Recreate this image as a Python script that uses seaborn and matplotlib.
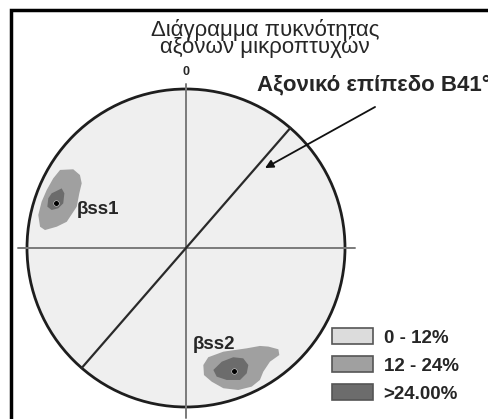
import numpy as np
import pandas as pd
import matplotlib.pyplot as plt
import seaborn as sns
from matplotlib.patches import Circle, Patch, Rectangle, Polygon

# Stereonet data (unit circle coordinates)
bss1_outer = [(-0.792, 0.491), (-0.709, 0.495), (-0.667, 0.459), (-0.656, 0.407),
              (-0.671, 0.344), (-0.687, 0.260), (-0.750, 0.165), (-0.813, 0.134),
              (-0.887, 0.113), (-0.918, 0.134), (-0.929, 0.208), (-0.908, 0.291),
              (-0.876, 0.365), (-0.835, 0.438)]
bss1_inner = [(-0.824, 0.354), (-0.782, 0.375), (-0.765, 0.344), (-0.772, 0.281),
              (-0.803, 0.250), (-0.845, 0.239), (-0.872, 0.260), (-0.866, 0.313),
              (-0.845, 0.344)]
bss2_outer = [(0.109, -0.736), (0.140, -0.687), (0.235, -0.652), (0.382, -0.631),
              (0.465, -0.616), (0.518, -0.620), (0.581, -0.637), (0.587, -0.673),
              (0.528, -0.715), (0.486, -0.778), (0.465, -0.830), (0.413, -0.872),
              (0.329, -0.893), (0.235, -0.882), (0.162, -0.841), (0.113, -0.799)]
bss2_inner = [(0.172, -0.767), (0.225, -0.715), (0.297, -0.687), (0.360, -0.694),
              (0.392, -0.736), (0.382, -0.788), (0.340, -0.830), (0.256, -0.830),
              (0.193, -0.809)]
maxima_x = [-0.819, 0.302]
maxima_y = [0.285, -0.772]
maxima_names = ['βss1', 'βss2']
axial_plane_azimuth = 41

legend_labels = ['0 - 12%', '12 - 24%', '>24.00%']
level_colors = ['#dcdcdc', '#a0a0a0', '#6c6c6c']

sns.set_theme(style='white')
plt.rcParams['font.family'] = ['Liberation Sans', 'DejaVu Sans']

fig = plt.figure(figsize=(4.88, 4.19), dpi=100)
ax = fig.add_axes([0, 0, 1, 1])
ax.set_xlim(-186 / 159, (488 - 186) / 159)
ax.set_ylim(-(419 - 248) / 159, 248 / 159)
ax.set_aspect('equal')
ax.axis('off')

# frame round the figure (cut off at right and bottom)
fig.patches.append(Rectangle((11 / 488, -0.05), 1.1, 1 - 10 / 419 + 0.05,
                             transform=fig.transFigure, fill=False,
                             edgecolor='black', linewidth=2.5))

# net
ax.add_patch(Circle((0, 0), 1, facecolor='#efefef', edgecolor='#1e1e1e',
                    linewidth=2.0, zorder=1))
cross_h = pd.DataFrame({'x': [-1.057, 1.063], 'y': [0, 0]})
sns.lineplot(data=cross_h, x='x', y='y', color='#7a7a7a', linewidth=1.4, ax=ax,
             zorder=2, estimator=None, sort=False)
cross_v = pd.DataFrame({'x': [0, 0], 'y': [1.03, -1.07]})
sns.lineplot(data=cross_v, x='x', y='y', color='#7a7a7a', linewidth=1.4, ax=ax,
             zorder=2, estimator=None, sort=False)

# density contours
for poly, col in [(bss1_outer, level_colors[1]), (bss2_outer, level_colors[1]),
                  (bss1_inner, level_colors[2]), (bss2_inner, level_colors[2])]:
    ax.add_patch(Polygon(poly, closed=True, facecolor=col, edgecolor='none', zorder=3))
sns.scatterplot(x=maxima_x, y=maxima_y, color='black', s=16, ax=ax, zorder=4)

# axial plane trace
az = np.radians(axial_plane_azimuth)
plane = pd.DataFrame({'x': [-np.sin(az), np.sin(az)], 'y': [-np.cos(az), np.cos(az)]})
sns.lineplot(data=plane, x='x', y='y', color='#2a2a2a', linewidth=1.6, ax=ax,
             zorder=5, estimator=None, sort=False)

# labels
ax.text(-0.686, 0.245, maxima_names[0], fontsize=13.5, fontweight='bold',
        ha='left', va='center', zorder=6)
ax.text(0.176, -0.610, maxima_names[1], fontsize=13.5, fontweight='bold',
        ha='center', va='center', zorder=6)
ax.text(0, 1.105, '0', fontsize=9, fontweight='bold', ha='center', va='center')
ax.annotate('Αξονικό επίπεδο B41°', xy=(0.497, 0.503), xytext=(0.447, 0.994),
            fontsize=16, fontweight='bold', ha='left', va='baseline')
ax.annotate('', xy=(0.497, 0.503), xytext=(1.189, 0.887),
            arrowprops=dict(arrowstyle='-|>', color='#111111', lw=1.3,
                            mutation_scale=12, shrinkA=0, shrinkB=0))

fig.text(265 / 488, 1 - 53 / 419, 'Διάγραμμα πυκνότητας\nαξόνων μικροπτυχών',
         fontsize=16, ha='center', va='baseline', linespacing=0.72)

handles = [Patch(facecolor=c, edgecolor='#555555', linewidth=1.2) for c in level_colors]
ax.legend(handles, legend_labels, loc='upper left',
          bbox_to_anchor=(332 / 488, 1 - 328 / 419), bbox_transform=fig.transFigure,
          frameon=False, borderpad=0, borderaxespad=0,
          handlelength=2.2, handleheight=0.96, handletextpad=0.55, labelspacing=0.5,
          prop={'size': 13.5, 'weight': 'bold'})

plt.savefig('out.png', dpi=100)
